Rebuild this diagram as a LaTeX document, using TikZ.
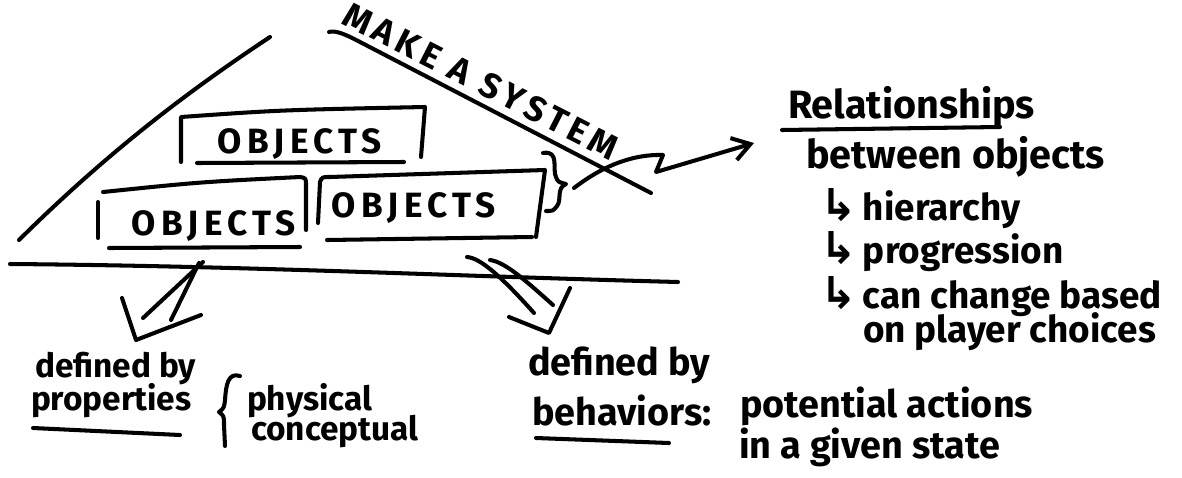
\documentclass[tikz,border=0pt]{standalone}
\usepackage{fontspec}
\setmainfont{Fira Sans}
\newfontfamily\capsfont[LetterSpace=15]{Fira Sans}
\newfontfamily\symfont{DejaVu Sans}
\usetikzlibrary{arrows.meta}

\begin{document}
\begin{tikzpicture}[x=0.02cm, y=-0.02cm, line width=2.3pt, line cap=round, line join=round,
    caps/.style={font=\capsfont\bfseries\fontsize{20}{22}\selectfont, inner sep=0pt},
    note/.style={font=\bfseries\fontsize{22.5}{24}\selectfont, inner sep=0pt, anchor=base west},
    item/.style={note, font=\bfseries\fontsize{21}{23}\selectfont},
    mid/.style={note, font=\bfseries\fontsize{21.5}{23}\selectfont},
    small/.style={note, font=\bfseries\fontsize{19}{21}\selectfont}]
\useasboundingbox (0,0) rectangle (1182,477);

%system roof
\draw (19,240) .. controls (110,150) and (190,90) .. (270,37);
\draw (329,32) .. controls (335,30) and (345,34) .. (360,42) -- (651,193);
\node[caps, rotate=-27] (sys) at (481,81) {MAKE A SYSTEM};
%ground
\draw (10,264) .. controls (250,266) and (450,276) .. (678,282);

%objects
\draw (181,162) -- (181,117) .. controls (280,110) .. (425,107) -- (421,157);
\draw (197,163) -- (404,162);
\node[caps] (obj1) at (300,144) {OBJECTS};
\draw (98,202) -- (98,238);
\draw (103,192) .. controls (200,182) .. (300,177) .. controls (306,178) .. (306,186) -- (306,230);
\draw (109,248) -- (300,247);
\node[caps] (obj2) at (214,226) {OBJECTS};
\draw (318,223) -- (320,182) .. controls (322,177) .. (330,177) -- (545,170) -- (536,237);
\draw (327,240) -- (532,237);
\node[caps] (obj3) at (414,208) {OBJECTS};

%brace and arrow to relationships
\draw (543,153) .. controls (560,150) and (552,170) .. (556,177) .. controls (558,182) .. (566,184)
    .. controls (556,188) and (562,200) .. (557,206) .. controls (553,211) .. (546,211);
\coordinate (brace) at (574,188);
\coordinate (relin) at (754,143);
\draw[-{Straight Barb[length=10pt,width=13pt]}] (brace) .. controls (600,168) and (630,154) .. (663,155)
    -- (656,172) -- (relin);

%relationships
\node[note] (rel) at (786,118) {Relationships};
\draw (782,130) -- (1000,127);
\node[note] (betw) at (804,168) {between objects};
\foreach \t/\y [count=\i] in {hierarchy/220, progression/263, can change based/308}
   \node[item] (item\i) at (818,\y) {{\symfont\fontsize{25}{25}\selectfont ↳}\,\t};
\node[item] (item4) at (861,342) {on player choices};

%properties arrow
\coordinate (pfrom) at (203,262);
\coordinate (pto) at (136,340);
\draw (pfrom) -- (143,318);
\draw (199,263) -- (171,320);
\draw (122,298) -- (pto) -- (201,315);

%left notes
\node[small] (defp) at (33,377) {defined by};
\node[small] (prop) at (29,410) {properties};
\draw (33,428) -- (180,435);
\draw (240,376) .. controls (228,372) and (226,385) .. (225,400) .. controls (224,408) .. (219,412)
    .. controls (224,416) .. (224,425) -- (225,446);
\node[small] (phys) at (245,410) {physical};
\node[small] (conc) at (249,440) {conceptual};

%behaviors arrow
\coordinate (bfrom) at (467,257);
\coordinate (bto) at (549,333);
\draw (bfrom) .. controls (480,258) and (500,275) .. (534,313);
\draw (490,260) .. controls (505,262) and (525,280) .. (553,305);
\draw (509,317) -- (bto) -- (570,288);

%right notes
\node[mid] (defb) at (526,375) {defined by};
\node[mid] (beh) at (530,425) {behaviors:};
\draw (536,438) -- (669,443);
\node[mid] (pot) at (738,417) {potential actions};
\node[mid] (giv) at (737,458) {in a given state};
\end{tikzpicture}
\end{document}
